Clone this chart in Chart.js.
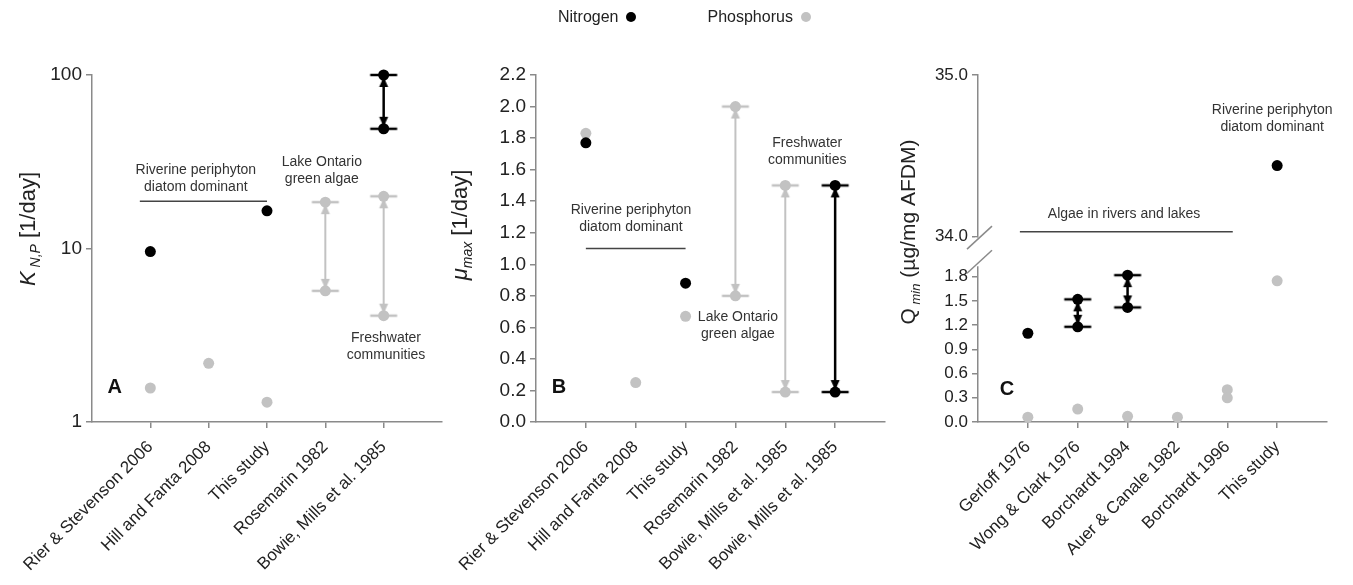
<!DOCTYPE html>
<html>
<head>
<meta charset="utf-8">
<script src="https://cdn.jsdelivr.net/npm/chart.js@4.4.1/dist/chart.umd.min.js"></script>
<style>
  body { margin: 0; background: #fff; width: 1353px; height: 585px; overflow: hidden; position: relative;
         font-family: "Liberation Sans", Arial, Helvetica, sans-serif; }
  canvas { position: absolute; top: 0; }
  #panelA { left: 0; }
  #panelB { left: 435px; }
  #panelC { left: 895px; }
  #legend { position: absolute; top: 7px; left: 558px; display: flex; align-items: center;
            font-size: 16px; line-height: 20px; color: #222; }
  #legend .item { display: flex; align-items: center; margin-right: 71px; }
  #legend .dot { width: 10px; height: 10px; border-radius: 50%; margin-left: 8px; display: inline-block; }
</style>
</head>
<body>
<canvas id="panelA" width="450" height="585"></canvas>
<canvas id="panelB" width="492" height="585"></canvas>
<canvas id="panelC" width="458" height="585"></canvas>
<div id="legend"></div>
<script>
// ---- panel A : half saturation constants (log axis) ----
const catsA = ['Rier & Stevenson 2006', 'Hill and Fanta 2008', 'This study', 'Rosemarin 1982', 'Bowie, Mills et al. 1985'];
const nitroA = [9.6, null, 16.5, null, null];
const phosA = [1.57, 2.18, 1.3, null, null];
const nitroLowA = [null, null, null, null, 49];
const nitroHighA = [null, null, null, null, 100];
const phosLowA = [null, null, null, 5.7, 4.1];
const phosHighA = [null, null, null, 18.5, 20];
const ticksA = [1, 10, 100];
const groupSpanA = [0.82, 3.0];
const groupLevelA = 18.7;

// ---- panel B : max growth rate ----
const catsB = ['Rier & Stevenson 2006', 'Hill and Fanta 2008', 'This study', 'Rosemarin 1982', 'Bowie, Mills et al. 1985', 'Bowie, Mills et al. 1985'];
const nitroB = [1.77, null, 0.88, null, null, null];
const phosB = [1.83, 0.25, 0.67, null, null, null];
const nitroLowB = [null, null, null, null, null, 0.19];
const nitroHighB = [null, null, null, null, null, 1.5];
const phosLowB = [null, null, null, 0.8, 0.19, null];
const phosHighB = [null, null, null, 2.0, 1.5, null];
const ticksB = [0, 0.2, 0.4, 0.6, 0.8, 1.0, 1.2, 1.4, 1.6, 1.8, 2.0, 2.2];
const groupSpanB = [1.0, 3.0];
const groupLevelB = 1.1;

// ---- panel C : minimum cell quota (broken axis) ----
const catsC = ['Gerloff 1976', 'Wong & Clark 1976', 'Borchardt 1994', 'Auer & Canale 1982', 'Borchardt 1996', 'This study'];
const nitroC = [1.1, null, null, null, null, 34.44];
const phosC = [0.06, 0.16, 0.07, 0.06, 0.4, 1.75];
const phosC2 = [null, null, null, null, 0.3, null];
const nitroLowC = [null, 1.18, 1.42, null, null, null];
const nitroHighC = [null, 1.52, 1.82, null, null, null];
const ticksCLow = [0, 0.3, 0.6, 0.9, 1.2, 1.5, 1.8];
const ticksCHigh = [34, 35];
const rangeCLow = [0, 2.107];
const rangeCHigh = [33.905, 35];
const lowTopC = 1.93;     // where the lower segment of the axis stops
const groupSpanC = [0.84, 5.11];
const groupLevelC = 34.03;

Chart.defaults.font.family = '"Liberation Sans", Arial, Helvetica, sans-serif';
Chart.defaults.color = '#222';

const black = '#000000';
const grey = '#c2c2c2';
const axisGrey = '#8a8a8a';

// cap + arrow head marker for the range ends
function capImage(color, up) {
    const c = document.createElement('canvas');
    c.width = 32; c.height = 32;
    const g = c.getContext('2d');
    g.strokeStyle = color; g.fillStyle = color; g.lineWidth = 2.5;
    g.beginPath(); g.moveTo(2.5, 16); g.lineTo(29.5, 16); g.stroke();
    const s = up ? 1 : -1;
    g.beginPath();
    g.moveTo(16, 16 + s * 2);
    g.lineTo(11.5, 16 + s * 12);
    g.lineTo(20.5, 16 + s * 12);
    g.closePath(); g.fill();
    return c;
}
const caps = {};
[black, grey].forEach(col => { caps[col] = { up: capImage(col, true), down: capImage(col, false) }; });

function gather(...arrays) {
    const out = [];
    arrays.forEach(arr => arr.forEach((v, i) => { if (v != null) out.push({ x: i + 1, y: v }); }));
    return out;
}

function pointSet(label, color, data, yAxisID = 'y') {
    return { type: 'scatter', label, data, yAxisID, backgroundColor: color, borderColor: color,
             pointRadius: 5.5, pointHoverRadius: 5.5, borderWidth: 0, clip: false };
}

function rangeSets(lows, highs, color, yAxisID = 'y') {
    const sets = [];
    lows.forEach((lo, i) => {
        if (lo == null) return;
        sets.push({ type: 'line', label: 'range', yAxisID, showLine: true, clip: false,
                    data: [{ x: i + 1, y: lo }, { x: i + 1, y: highs[i] }],
                    borderColor: color, borderWidth: color === black ? 2.5 : 2,
                    pointRadius: 1, pointStyle: [caps[color].down, caps[color].up] });
    });
    return sets;
}

function lineSet(span, level, yAxisID = 'y') {
    return { type: 'line', label: 'group', yAxisID, showLine: true, clip: false,
             data: [{ x: span[0], y: level }, { x: span[1], y: level }],
             borderColor: '#444', borderWidth: 1.5, pointRadius: 0 };
}

function xAxis(cats) {
    return {
        type: 'linear', min: 0, max: cats.length + 1,
        afterBuildTicks: s => { s.ticks = cats.map((c, i) => ({ value: i + 1 })); },
        afterFit: s => { s.height = 585 - 422; },
        grid: { drawOnChartArea: false, tickLength: 6, color: axisGrey, lineWidth: 1.5 },
        border: { color: axisGrey, width: 1.5 },
        ticks: { autoSkip: false, minRotation: 45, maxRotation: 45, padding: 9, font: { size: 17 },
                 callback: v => cats[v - 1] }
    };
}

function yAxis(extra, width, ticks, fmt, size) {
    return Object.assign({
        afterBuildTicks: s => { s.ticks = ticks.map(v => ({ value: v })); },
        afterFit: s => { s.width = width; },
        grid: { drawOnChartArea: false, tickLength: 6, color: axisGrey, lineWidth: 1.5 },
        border: { color: axisGrey, width: 1.5 },
        ticks: { autoSkip: false, padding: 4, font: { size }, callback: fmt }
    }, extra);
}

// text notes placed in data coordinates
function notes(items) {
    return {
        id: 'notes',
        afterDatasetsDraw(chart) {
            const ctx = chart.ctx;
            items.forEach(n => {
                const px = chart.scales.x.getPixelForValue(n.x);
                const py = chart.scales[n.axis || 'y'].getPixelForValue(n.y);
                ctx.save();
                ctx.font = (n.bold ? 'bold ' : '') + (n.size || 14) + 'px ' + Chart.defaults.font.family;
                ctx.fillStyle = n.bold ? '#111' : '#333';
                ctx.textAlign = 'center';
                ctx.textBaseline = 'middle';
                n.lines.forEach((t, k) => ctx.fillText(t, px, py + k * 17));
                ctx.restore();
            });
        }
    };
}

// y title with italic / subscript parts
function richTitle(x, y, runs) {
    return {
        id: 'richTitle',
        afterDraw(chart) {
            const ctx = chart.ctx;
            const fam = Chart.defaults.font.family;
            ctx.save();
            ctx.translate(x, y);
            ctx.rotate(-Math.PI / 2);
            ctx.fillStyle = '#222';
            ctx.textBaseline = 'alphabetic';
            const widths = runs.map(r => { ctx.font = r.font + ' ' + fam; return ctx.measureText(r.text).width; });
            let cx = -widths.reduce((a, b) => a + b, 0) / 2;
            runs.forEach((r, k) => {
                ctx.font = r.font + ' ' + fam;
                ctx.fillText(r.text, cx, 8 + (r.dy || 0));
                cx += widths[k];
            });
            ctx.restore();
        }
    };
}

const axisBreak = {
    id: 'axisBreak',
    afterDraw(chart) {
        const ctx = chart.ctx;
        const ax = chart.chartArea.left;
        const yEnd = chart.scales.yTop.getPixelForValue(ticksCHigh[0]) + 1;
        const yStart = chart.scales.yBot.getPixelForValue(lowTopC);
        ctx.save();
        ctx.fillStyle = '#fff';
        ctx.fillRect(ax - 3, yEnd, 6, yStart - yEnd);
        ctx.strokeStyle = axisGrey;
        ctx.lineWidth = 1.5;
        [yEnd, yStart - 4.5].forEach(cy => {
            ctx.beginPath();
            ctx.moveTo(ax + 1.5 - 12.5, cy + 11.5);
            ctx.lineTo(ax + 1.5 + 12.5, cy - 11.5);
            ctx.stroke();
        });
        ctx.restore();
    }
};

const common = {
    responsive: false, animation: false, events: [],
    plugins: { legend: { display: false }, tooltip: { enabled: false } }
};

// ---------- A ----------
new Chart(document.getElementById('panelA'), {
    type: 'scatter',
    data: {
        datasets: [
            pointSet('Nitrogen', black, gather(nitroA, nitroLowA, nitroHighA)),
            pointSet('Phosphorus', grey, gather(phosA, phosLowA, phosHighA)),
            ...rangeSets(nitroLowA, nitroHighA, black),
            ...rangeSets(phosLowA, phosHighA, grey),
            lineSet(groupSpanA, groupLevelA)
        ]
    },
    options: Object.assign({}, common, {
        layout: { padding: { top: 75, right: 8, left: 0, bottom: 0 } },
        scales: {
            x: xAxis(catsA),
            y: yAxis({ type: 'logarithmic', min: 1, max: 100 }, 92, ticksA, v => String(v), 19)
        }
    }),
    plugins: [
        notes([
            { x: 1.78, y: 28.3, lines: ['Riverine periphyton', 'diatom dominant'] },
            { x: 3.94, y: 31.5, lines: ['Lake Ontario', 'green algae'] },
            { x: 5.04, y: 3.05, lines: ['Freshwater', 'communities'] },
            { x: 0.39, y: 1.59, lines: ['A'], bold: true, size: 20 }
        ]),
        richTitle(27, 229, [
            { text: 'K', font: 'italic 22px' },
            { text: ' N,P', font: 'italic 14px', dy: 5 },
            { text: ' [1/day]', font: '22px' }
        ])
    ]
});

// ---------- B ----------
const chartB = new Chart(document.getElementById('panelB'), {
    type: 'scatter',
    data: {
        datasets: [
            pointSet('Nitrogen', black, gather(nitroB, nitroLowB, nitroHighB)),
            pointSet('Phosphorus', grey, gather(phosB, phosLowB, phosHighB)),
            ...rangeSets(nitroLowB, nitroHighB, black),
            ...rangeSets(phosLowB, phosHighB, grey),
            lineSet(groupSpanB, groupLevelB)
        ]
    },
    options: Object.assign({}, common, {
        layout: { padding: { top: 75, right: 42, left: 0, bottom: 0 } },
        scales: {
            x: xAxis(catsB),
            y: yAxis({ type: 'linear', min: 0, max: 2.2 }, 101, ticksB, v => v.toFixed(1), 19)
        }
    }),
    plugins: [
        notes([
            { x: 1.905, y: 1.346, lines: ['Riverine periphyton', 'diatom dominant'] },
            { x: 5.44, y: 1.765, lines: ['Freshwater', 'communities'] },
            { x: 4.05, y: 0.666, lines: ['Lake Ontario', 'green algae'] },
            { x: 0.46, y: 0.221, lines: ['B'], bold: true, size: 20 }
        ]),
        richTitle(24, 225, [
            { text: 'μ', font: 'italic 22px' },
            { text: 'max', font: 'italic 14px', dy: 5 },
            { text: ' [1/day]', font: '22px' }
        ])
    ]
});

// ---------- C ----------
const highN = nitroC.map(v => (v != null && v >= ticksCHigh[0] ? v : null));
const lowN = nitroC.map(v => (v != null && v < ticksCHigh[0] ? v : null));
new Chart(document.getElementById('panelC'), {
    type: 'scatter',
    data: {
        datasets: [
            pointSet('Nitrogen', black, gather(lowN, nitroLowC, nitroHighC), 'yBot'),
            pointSet('Nitrogen', black, gather(highN), 'yTop'),
            pointSet('Phosphorus', grey, gather(phosC, phosC2), 'yBot'),
            ...rangeSets(nitroLowC, nitroHighC, black, 'yBot'),
            lineSet(groupSpanC, groupLevelC, 'yTop')
        ]
    },
    options: Object.assign({}, common, {
        layout: { padding: { top: 75, right: 26, left: 0, bottom: 0 } },
        scales: {
            x: xAxis(catsC),
            // stacked boxes are placed bottom-up in declaration order
            yBot: yAxis({ type: 'linear', position: 'left', stack: 'c', stackWeight: 170,
                          min: rangeCLow[0], max: rangeCLow[1] }, 83, ticksCLow, v => v.toFixed(1), 17),
            yTop: yAxis({ type: 'linear', position: 'left', stack: 'c', stackWeight: 177,
                          min: rangeCHigh[0], max: rangeCHigh[1] }, 83, ticksCHigh, v => v.toFixed(1), 17)
        }
    }),
    plugins: [
        notes([
            { x: 2.93, y: 34.14, axis: 'yTop', lines: ['Algae in rivers and lakes'] },
            { x: 5.9, y: 34.78, axis: 'yTop', lines: ['Riverine periphyton', 'diatom dominant'] },
            { x: 0.58, y: 0.40, axis: 'yBot', lines: ['C'], bold: true, size: 20 }
        ]),
        richTitle(12, 232, [
            { text: 'Q', font: '21px' },
            { text: ' min', font: 'italic 13px', dy: 5 },
            { text: ' (µg/mg AFDM)', font: '21px' }
        ]),
        axisBreak
    ]
});

// html legend built from panel B datasets
const legendEl = document.getElementById('legend');
const seen = new Set();
Chart.defaults.plugins.legend.labels.generateLabels(chartB)
    .filter(it => (it.text === 'Nitrogen' || it.text === 'Phosphorus') && !seen.has(it.text) && seen.add(it.text))
    .forEach(it => {
        const item = document.createElement('span');
        item.className = 'item';
        item.textContent = it.text;
        const dot = document.createElement('span');
        dot.className = 'dot';
        dot.style.background = it.fillStyle;
        item.appendChild(dot);
        legendEl.appendChild(item);
    });
</script>
</body>
</html>
